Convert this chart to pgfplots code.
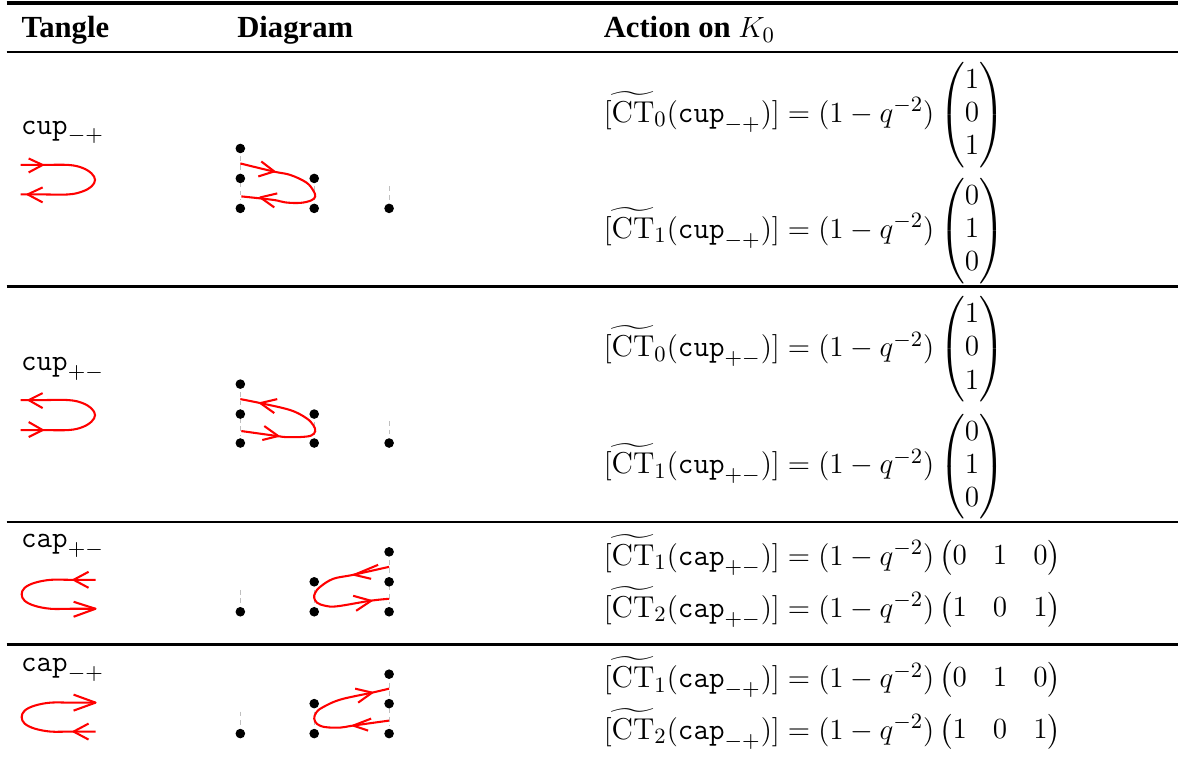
\documentclass[border=0pt,11pt]{standalone}
\usepackage{amsmath}
\usepackage{fontspec}
\usepackage{pgfplots}
\pgfplotsset{compat=1.18}
\setlength{\arraycolsep}{5.35pt}
\newfontfamily\headfont{Liberation Serif}
\newcommand{\fac}{=(1-q^{-2})}
\newcommand{\bodyfont}{\fontsize{12.4}{13.6}\selectfont}
\tikzset{
  rule/.style={black,line width=1.2pt},
  redline/.style={red,line width=0.85pt,line join=round},
  redcurve/.style={red,line width=0.85pt,smooth,tension=0.6},
  strand/.style={black!25,line width=0.4pt,dash pattern=on 2pt off 1.5pt},
  dots/.style={black,only marks,mark=*,mark size=1.75pt},
  headtext/.style={anchor=base west,inner sep=0pt,font=\fontsize{12.6}{14}\selectfont\headfont\bfseries},
  eq/.style={anchor=base west,inner sep=0pt,font=\bodyfont},
}
\begin{document}
\begin{tikzpicture}
\begin{axis}[
  scale only axis,
  width=484pt,
  height=314.6pt,
  xmin=-0.7,xmax=1179.3,
  ymin=-0.7,ymax=766.3,
  y dir=reverse,
  hide axis,
  clip=false,
  no markers,
]
% rules
\addplot[rule,line width=1.5pt] coordinates {(6,2.4)(1179.3,2.4)};
\addplot[rule,line width=0.8pt] coordinates {(6,51.5)(1179.3,51.5)};
\addplot[rule,line width=1.3pt] coordinates {(6,286.5)(1179.3,286.5)};
\addplot[rule,line width=0.8pt] coordinates {(6,522.2)(1179.3,522.2)};
\addplot[rule,line width=1.1pt] coordinates {(6,645.1)(1179.3,645.1)};
% grey strands
\addplot[strand] coordinates {(240,156)(240,200)};
\addplot[strand] coordinates {(314,186)(314,200)};
\addplot[strand] coordinates {(389,186)(389,200)};
\addplot[strand] coordinates {(240,392)(240,435)};
\addplot[strand] coordinates {(314,422)(314,435)};
\addplot[strand] coordinates {(389,421)(389,435)};
\addplot[strand] coordinates {(389,560)(389,604)};
\addplot[strand] coordinates {(314,590)(314,604)};
\addplot[strand] coordinates {(240,590)(240,604)};
\addplot[strand] coordinates {(389,683)(389,726)};
\addplot[strand] coordinates {(314,712)(314,726)};
\addplot[strand] coordinates {(240,712)(240,726)};
% strand endpoints
\addplot[dots] coordinates {(240,148)(240,178)(240,208)(314,178)(314,208)(389,208)};
\addplot[dots] coordinates {(240,384)(240,414)(240,443)(314,414)(314,443)(389,443)};
\addplot[dots] coordinates {(389,552)(389,582)(389,612)(314,582)(314,612)(240,612)};
\addplot[dots] coordinates {(389,674.5)(389,704)(389,734)(314,704)(314,734)(240,734)};
% tangle column: cup -+
\addplot[redcurve] coordinates {(20,164.5)(40,164.5)(68,164.5)(82,167.5)(91,173)(94.5,179.5)(91,186)(82,191)(68,194)(40,194)(20,194)};
\addplot[redline] coordinates {(28,158)(42,164.5)(28,172)};
\addplot[redline] coordinates {(42,187)(27,194)(42,202)};
% cup +-
\addplot[redcurve] coordinates {(20,400)(40,400)(68,400)(82,403)(91,408.5)(94.5,415)(91,421.5)(82,427)(68,430)(40,430)(20,430)};
\addplot[redline] coordinates {(42,393)(28,400)(42,408)};
\addplot[redline] coordinates {(28,422)(42,430)(28,437)};
% cap +-
\addplot[redcurve] coordinates {(95,580)(70,580)(50,580)(34,583)(24,588)(21,594.5)(24,601)(34,606)(50,609)(70,609)(95,609)};
\addplot[redline] coordinates {(88,572)(73,580)(88,588)};
\addplot[redline] coordinates {(73,602)(95,609)(73,617)};
% cap -+
\addplot[redcurve] coordinates {(95,703)(70,703)(50,703)(34,706)(24,711)(21,717.5)(24,724)(34,729)(50,732)(70,732)(95,732)};
\addplot[redline] coordinates {(73,695)(95,703)(73,711)};
\addplot[redline] coordinates {(88,724)(73,732)(88,740)};
% diagram column
\addplot[redcurve] coordinates {(240,163)(273,171)(290,174.5)(306,182)(313,190)(315,196)(311,200)(300,202.5)(285,202)(273,199.5)(241,196)};
\addplot[redline] coordinates {(261,161)(274,171)(258,176)};
\addplot[redline] coordinates {(277,193)(260,197)(274,207)};
\addplot[redcurve] coordinates {(240,399)(260,403)(290,410)(306,418)(313,425)(315,431)(311,435.5)(300,437)(285,437)(277,436)(241,431)};
\addplot[redline] coordinates {(277,399)(260,403)(274,413)};
\addplot[redline] coordinates {(264,426)(278,436)(262,440)};
\addplot[redcurve] coordinates {(389,567)(353,575)(333,579)(320,587)(315,593)(314,598)(317,603)(325,606)(337,606.5)(370,601)(389,599)};
\addplot[redline] coordinates {(378,565)(354,575)(371,579)};
\addplot[redline] coordinates {(353,596)(371,601)(356,611)};
\addplot[redcurve] coordinates {(389,689)(372,693)(340,700)(322,708)(316,713)(314,719)(317,724.5)(325,727.5)(340,728)(353,726)(389,721)};
\addplot[redline] coordinates {(355,689)(372,693)(358,703)};
\addplot[redline] coordinates {(371,719)(353,726)(368,731)};
% text
\node[headtext] at (20.5,37) {Tangle};
\node[headtext] at (236.5,37) {Diagram};
\node[headtext] at (603.5,37) {Action on $K_0$};
\node[eq] at (20,133.5) {$\texttt{cup}_{-+}$};
\node[eq] at (20,370) {$\texttt{cup}_{+-}$};
\node[eq] at (20,547.5) {$\texttt{cap}_{+-}$};
\node[eq] at (20,671.5) {$\texttt{cap}_{-+}$};
\node[eq] at (603.5,122) {$[\widetilde{\mathrm{CT}}_0(\texttt{cup}_{-+})]\fac\begin{pmatrix}1\\0\\1\end{pmatrix}$};
\node[eq] at (603.5,238) {$[\widetilde{\mathrm{CT}}_1(\texttt{cup}_{-+})]\fac\begin{pmatrix}0\\1\\0\end{pmatrix}$};
\node[eq] at (603.5,356.5) {$[\widetilde{\mathrm{CT}}_0(\texttt{cup}_{+-})]\fac\begin{pmatrix}1\\0\\1\end{pmatrix}$};
\node[eq] at (603.5,474) {$[\widetilde{\mathrm{CT}}_1(\texttt{cup}_{+-})]\fac\begin{pmatrix}0\\1\\0\end{pmatrix}$};
\node[eq] at (603.5,565.5) {$[\widetilde{\mathrm{CT}}_1(\texttt{cap}_{+-})]\fac\begin{pmatrix}0&1&0\end{pmatrix}$};
\node[eq] at (603.5,617.5) {$[\widetilde{\mathrm{CT}}_2(\texttt{cap}_{+-})]\fac\begin{pmatrix}1&0&1\end{pmatrix}$};
\node[eq] at (603.5,688) {$[\widetilde{\mathrm{CT}}_1(\texttt{cap}_{-+})]\fac\begin{pmatrix}0&1&0\end{pmatrix}$};
\node[eq] at (603.5,740) {$[\widetilde{\mathrm{CT}}_2(\texttt{cap}_{-+})]\fac\begin{pmatrix}1&0&1\end{pmatrix}$};
% page frame
\path (axis cs:-0.7,-0.7) rectangle (axis cs:1179.3,766.3);
\end{axis}
\end{tikzpicture}
\end{document}
